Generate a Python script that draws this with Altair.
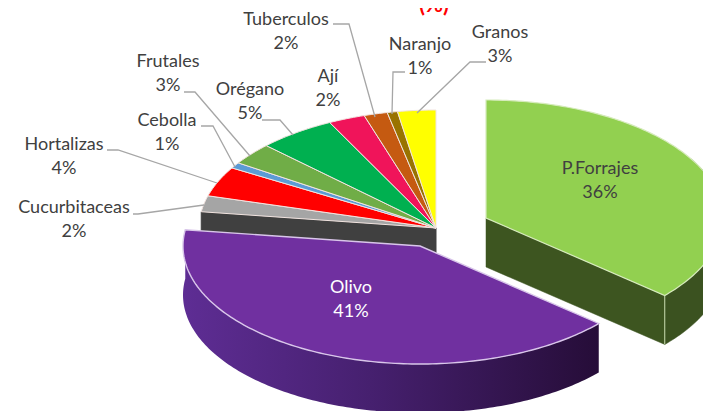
import math
import altair as alt

# ---- data
categories = ["P.Forrajes", "Olivo", "Cucurbitaceas", "Hortalizas", "Cebolla", "Frutales",
              "Orégano", "Ají", "Tuberculos", "Naranjo", "Granos"]
shares = [36.4, 40.8, 2.2, 4.1, 0.8, 3.0, 5.3, 2.5, 1.6, 0.7, 2.6]
pct_labels = ["36%", "41%", "2%", "4%", "1%", "3%", "5%", "2%", "2%", "1%", "3%"]
colors = ["#92D050", "#7030A0", "#A5A5A5", "#FF0000", "#5B9BD5", "#70AD47",
          "#00B050", "#F0145A", "#C55A11", "#997300", "#FFFF00"]

# ---- layout of the picture (page pixels)
PLOT_W, PLOT_H = 695, 403
MARGIN = 8
RX, RY = 237, 118
DEPTH = 49
apex = {"P.Forrajes": (486, 218), "Olivo": (420, 246), "rest": (436, 228)}
label_pos = {
    "P.Forrajes": (600, 169), "Olivo": (351, 288), "Cucurbitaceas": (74, 208),
    "Hortalizas": (64, 145), "Cebolla": (167, 121), "Frutales": (168, 62),
    "Orégano": (250, 90), "Ají": (328, 77), "Tuberculos": (286, 20),
    "Naranjo": (420, 45), "Granos": (500, 33),
}
LINE_GAP = 23.5
leaders = {
    "Tuberculos": [(333, 24), (349, 24), (375, 117)],
    "Naranjo": [(405, 72), (393, 72), (392, 114)],
    "Granos": [(486, 62), (470, 62), (417, 113)],
    "Orégano": [(262, 120), (280, 120), (293, 135)],
    "Frutales": [(184, 92), (195, 92), (250, 156)],
    "Cebolla": [(201, 126), (213, 126), (235, 167)],
    "Hortalizas": [(107, 150), (118, 150), (217, 183)],
    "Cucurbitaceas": [(133, 214), (138, 214), (204, 205)],
}

# ---- geometry derived from the shares
bounds = [0.0]
for s in shares:
    bounds.append(bounds[-1] + s * 3.6)


def pt(c, deg, dy=0):
    a = math.radians(deg)
    return [c[0] + RX * math.sin(a), c[1] - RY * math.cos(a) + dy]


def arc(c, t0, t1, dy=0):
    n = max(2, int(abs(t1 - t0)) + 1)
    return [pt(c, t0 + (t1 - t0) * i / n, dy) for i in range(n + 1)]


def feature(ring, fill, stroke, name):
    return {"type": "Feature",
            "geometry": {"type": "Polygon", "coordinates": [ring + [ring[0]]]},
            "properties": {"fill": fill, "stroke": stroke, "name": name}}


def wedge(c, t0, t1):
    return [list(c)] + arc(c, t0, t1)


def band(c, t0, t1):
    return arc(c, t0, t1) + arc(c, t1, t0, DEPTH)


def straight_side(c, t):
    e = pt(c, t)
    return [list(c), e, [e[0], e[1] + DEPTH], [c[0], c[1] + DEPTH]]


pf, ol, rest = apex["P.Forrajes"], apex["Olivo"], apex["rest"]

back = [feature(straight_side(rest, bounds[2]), "#404040", "#404040", "corte")]
small = [feature(wedge(rest, bounds[i], bounds[i + 1]), colors[i], "#F2E4E0", categories[i])
         for i in range(2, len(categories))]
forr_side = [
    feature(straight_side(pf, bounds[1]), "#3D5520", "#3D5520", "lado"),
    feature(band(pf, 60, bounds[1]), "#3B5220", "#3B5220", "borde"),
]
forr_top = [feature(wedge(pf, bounds[0], bounds[1]), colors[0], "#D6EBBC", categories[0])]
oliv_top = [feature(wedge(ol, bounds[1], bounds[2]), colors[1], "#D9C6EA", categories[1])]
oliv_side = [feature(band(ol, bounds[1], bounds[2]), "#2A0F3E", "#2A0F3E", "borde")]

proj = dict(type="identity", scale=1, translate=[-MARGIN, -MARGIN])


def shapes(feats, **kw):
    return alt.Chart(alt.Data(values=feats)).mark_geoshape(**kw).encode(
        fill=alt.Fill("properties.fill:N", scale=None, legend=None),
        stroke=alt.Stroke("properties.stroke:N", scale=None, legend=None),
    ).project(**proj)


olive_gradient = alt.LinearGradient(
    gradient="linear", x1=0, x2=1, y1=0, y2=0,
    stops=[alt.GradientStop(offset=0, color="#5E2D94"),
           alt.GradientStop(offset=0.45, color="#46206F"),
           alt.GradientStop(offset=1, color="#260D38")])

oliv_side_chart = alt.Chart(alt.Data(values=oliv_side)).mark_geoshape(
    fill=olive_gradient, strokeWidth=0).project(**proj)

X = alt.X("px:Q", scale=alt.Scale(domain=[MARGIN, MARGIN + PLOT_W]), axis=None)
Y = alt.Y("py:Q", scale=alt.Scale(domain=[MARGIN, MARGIN + PLOT_H], reverse=True), axis=None)

leader_rows = [{"px": p[0], "py": p[1], "k": k, "o": i}
               for k, pts in leaders.items() for i, p in enumerate(pts)]
leader_chart = alt.Chart(alt.Data(values=leader_rows)).mark_line(
    color="#A6A6A6", strokeWidth=1.3).encode(x=X, y=Y, detail="k:N", order="o:Q")

corner = pt(pf, bounds[1])
corner_rows = [{"px": corner[0], "py": corner[1], "o": 0},
               {"px": corner[0], "py": corner[1] + DEPTH, "o": 1}]
corner_chart = alt.Chart(alt.Data(values=corner_rows)).mark_line(
    color="#C9DDAF", strokeWidth=1).encode(x=X, y=Y, order="o:Q")

text_rows = []
for name, pct in zip(categories, pct_labels):
    x, y = label_pos[name]
    col = "#FFFFFF" if name == "Olivo" else "#404040"
    text_rows.append({"px": x, "py": y, "t": name, "c": col})
    text_rows.append({"px": x, "py": y + LINE_GAP, "t": pct, "c": col})

text_chart = alt.Chart(alt.Data(values=text_rows)).mark_text(
    font="Lato", fontSize=18, baseline="middle", align="center").encode(
    x=X, y=Y, text="t:N", color=alt.Color("c:N", scale=None, legend=None))

title_chart = alt.Chart(alt.Data(values=[{"px": 434, "py": 5, "t": "(%)"}])).mark_text(
    font="Lato", fontSize=22, fontWeight="bold", color="#FF0000", baseline="middle",
    align="center").encode(x=X, y=Y, text="t:N")

chart = alt.layer(
    shapes(back),
    shapes(small, strokeWidth=1),
    shapes(forr_side, strokeWidth=0.5),
    shapes(forr_top, strokeWidth=1.2),
    corner_chart,
    oliv_side_chart,
    shapes(oliv_top, strokeWidth=1.4),
    leader_chart,
    text_chart,
    title_chart,
).properties(
    width=PLOT_W, height=PLOT_H, padding=0, background="white",
    autosize=alt.AutoSizeParams(type="none"),
).configure_view(stroke=None)

chart.save("out.html", embed_options={"renderer": "svg", "actions": False})
